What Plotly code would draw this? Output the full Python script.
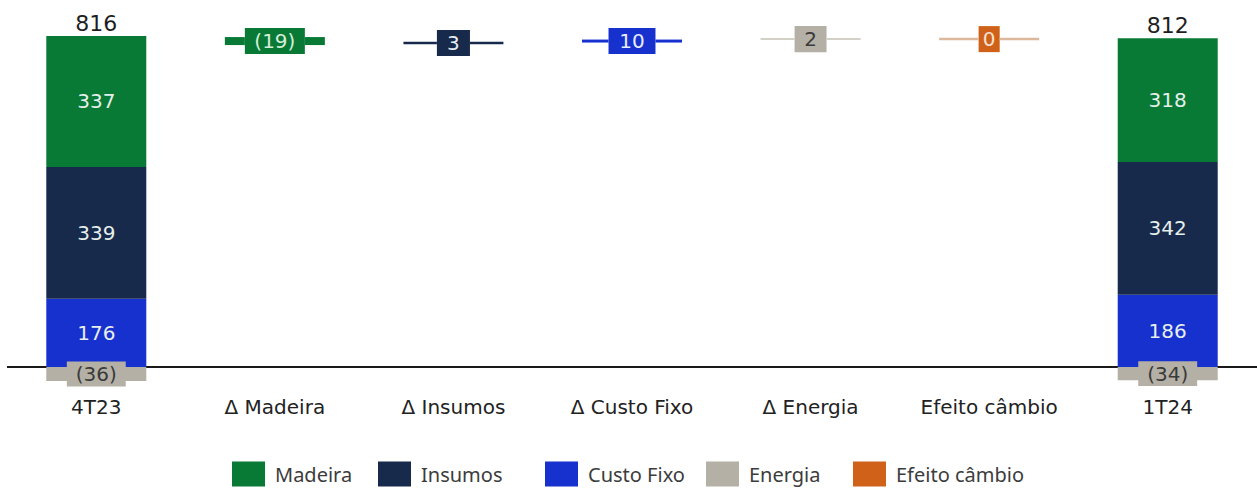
import plotly.graph_objects as go

# ---------------- data ----------------
categories = ["4T23", "Δ Madeira", "Δ Insumos", "Δ Custo Fixo", "Δ Energia", "Efeito câmbio", "1T24"]
series_names = ["Madeira", "Insumos", "Custo Fixo", "Energia", "Efeito câmbio"]
# stacked columns: 4T23 and 1T24
madeira = [337, 318]
insumos = [339, 342]
custo_fixo = [176, 186]
energia = [-36, -34]
totals = [816, 812]
# deltas between periods
deltas = [-19, 3, 10, 2, 0]
delta_levels = [839, 834, 839, 844, 844]

# ---------------- style ----------------
GREEN = "#087a36"
NAVY = "#172a4b"
BLUE = "#1731cf"
GREY = "#b4b0a5"
ORANGE = "#cf6118"
colors = [GREEN, NAVY, BLUE, GREY, ORANGE]
line_colors = [GREEN, NAVY, BLUE, "#d3d0c8", "#dcb99c"]
line_widths = [8, 2.5, 3, 2, 2.5]
box_text_colors = ["#d4eed9", "#e8ecf5", "#e8ecff", "#3a3a3a", "#f6e2d2"]
box_widths = [0.336, 0.185, 0.263, 0.179, 0.118]
BOX_H = 67
BAR_W = 0.56
LINE_HALF = 0.28
FONT = "DejaVu Sans"
LEGEND_FONT = "Noto Sans"

# plot-area geometry (px) used for the hand-placed legend
PLOT_L, PLOT_W, PLOT_H = 7, 1250, 390
legend_swatch_px = [232, 378, 545, 706, 853]
SWATCH_W, SWATCH_H = 33, 25
LEGEND_CY = 474

stack_x = [0, 6]
delta_x = [1, 2, 3, 4, 5]


def fmt(v):
    return f"({abs(v)})" if v < 0 else f"{v}"


fig = go.Figure()

# stacked positive segments, bottom to top: Custo Fixo, Insumos, Madeira
stack_series = [madeira, insumos, custo_fixo]
for idx in [2, 1, 0]:
    vals = stack_series[idx]
    fig.add_trace(go.Bar(
        x=stack_x, y=vals, width=BAR_W, name=series_names[idx],
        marker=dict(color=colors[idx], line=dict(width=0)),
        text=[fmt(v) for v in vals], textposition="inside",
        insidetextanchor="middle", textangle=0,
        textfont=dict(family=FONT, size=20, color="#e6efec"),
        hoverinfo="skip", showlegend=False,
    ))

# energy negative segment
fig.add_trace(go.Bar(
    x=stack_x, y=energia, width=BAR_W, name=series_names[3],
    marker=dict(color=GREY, line=dict(width=0)), hoverinfo="skip",
    showlegend=False,
))
# energy label boxes
fig.add_trace(go.Bar(
    x=stack_x, y=[64, 64], base=[v / 2 - 32 for v in energia], width=0.33,
    marker=dict(color=GREY, line=dict(width=0)), showlegend=False,
    text=[fmt(v) for v in energia], textposition="inside",
    insidetextanchor="middle", textangle=0,
    textfont=dict(family=FONT, size=20, color="#3a3a3a"), hoverinfo="skip",
))

# delta markers: lines
for i, (cx, lev) in enumerate(zip(delta_x, delta_levels)):
    hw = box_widths[i] / 2
    fig.add_trace(go.Scatter(
        x=[cx - LINE_HALF, cx - hw, None, cx + hw, cx + LINE_HALF],
        y=[lev, lev, None, lev, lev], mode="lines",
        line=dict(color=line_colors[i], width=line_widths[i]),
        showlegend=False, hoverinfo="skip",
    ))

# delta markers: boxes
for i, (cx, lev, dv) in enumerate(zip(delta_x, delta_levels, deltas)):
    fig.add_trace(go.Bar(
        x=[cx], y=[BOX_H], base=[lev - BOX_H / 2], width=[box_widths[i]],
        marker=dict(color=colors[i], line=dict(width=0)),
        name=series_names[i], showlegend=False,
        text=[fmt(dv)], textposition="inside", insidetextanchor="middle",
        textangle=0, textfont=dict(family=FONT, size=20, color=box_text_colors[i]),
        hoverinfo="skip",
    ))

# totals above stacks
stack_tops = [a + b + c for a, b, c in zip(madeira, insumos, custo_fixo)]
fig.add_trace(go.Scatter(
    x=stack_x, y=stack_tops, mode="text", text=[str(t) for t in totals],
    textposition="top center", textfont=dict(family=FONT, size=22, color="#1e1e1e"),
    showlegend=False, hoverinfo="skip",
))

# legend (large swatches like the reference)
shapes, annotations = [], []
for name, col, sx in zip(series_names, colors, legend_swatch_px):
    x0 = (sx - PLOT_L) / PLOT_W
    x1 = (sx + SWATCH_W - PLOT_L) / PLOT_W
    y0 = (PLOT_H - (LEGEND_CY + SWATCH_H / 2)) / PLOT_H
    y1 = (PLOT_H - (LEGEND_CY - SWATCH_H / 2)) / PLOT_H
    shapes.append(dict(type="rect", xref="paper", yref="paper", x0=x0, x1=x1,
                       y0=y0, y1=y1, fillcolor=col, line=dict(width=0)))
    annotations.append(dict(
        xref="paper", yref="paper", x=(sx + SWATCH_W + 8 - PLOT_L) / PLOT_W,
        y=(PLOT_H - LEGEND_CY) / PLOT_H, xanchor="left", yanchor="middle",
        text=name, showarrow=False,
        font=dict(family=LEGEND_FONT, size=20, color="#3c3c3c"),
    ))

fig.update_layout(
    width=1257, height=490, autosize=False,
    barmode="relative",
    plot_bgcolor="white", paper_bgcolor="white",
    margin=dict(l=PLOT_L, r=0, t=0, b=490 - PLOT_H),
    uniformtext=dict(minsize=20, mode="show"),
    xaxis=dict(
        range=[-0.5, 6.5], tickmode="array", tickvals=list(range(len(categories))),
        ticktext=categories, tickfont=dict(family=FONT, size=20, color="#222"),
        showgrid=False, zeroline=False, showline=False, ticks="",
        ticklabelstandoff=3, fixedrange=True,
    ),
    yaxis=dict(
        range=[-59.2, 944.7], showticklabels=False, showgrid=False,
        zeroline=True, zerolinecolor="#1a1a1a", zerolinewidth=2, ticks="",
        fixedrange=True,
    ),
    shapes=shapes,
    annotations=annotations,
    showlegend=False,
)

fig.write_html("out.html")
